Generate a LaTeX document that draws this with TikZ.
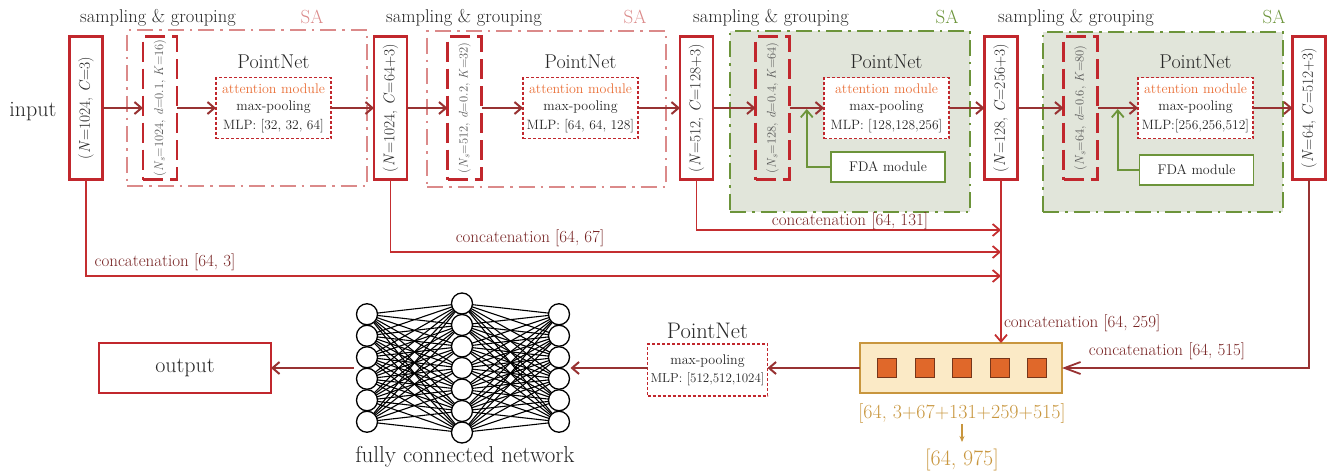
\documentclass[tikz,border=0pt]{standalone}
\usepackage{graphicx}
\usetikzlibrary{arrows.meta,calc}

\definecolor{boxred}{RGB}{193,39,45}
\definecolor{arrred}{RGB}{152,50,50}
\definecolor{catred}{RGB}{196,46,48}
\definecolor{cattxt}{RGB}{118,34,34}
\definecolor{sapink}{RGB}{219,138,138}
\definecolor{sagreen}{RGB}{108,148,58}
\definecolor{safill}{RGB}{225,229,218}
\definecolor{attn}{RGB}{234,112,56}
\definecolor{gold}{RGB}{200,150,62}
\definecolor{goldfill}{RGB}{251,234,198}
\definecolor{sqfill}{RGB}{224,104,42}
\definecolor{sqdraw}{RGB}{118,54,26}
\definecolor{txt}{RGB}{38,38,38}
\definecolor{graytxt}{RGB}{88,88,88}

\newcommand\fsz[2]{\fontsize{#1}{#2}\selectfont}
\newcommand\var[1]{\textit{#1}}
\newcommand\sub[1]{\textsubscript{\textit{#1}}}

\tikzset{
  every node/.style={inner sep=0pt, outer sep=0pt},
  featbox/.style={draw=boxred, line width=2.4pt, fill=white, minimum width=33pt,
    minimum height=143pt, font=\fsz{15.5}{18}, text=txt},
  groupbox/.style={draw=boxred, line width=2.6pt, dash pattern=on 20pt off 7pt,
    minimum width=34pt, minimum height=143pt, font=\fsz{12.5}{14}, text=graytxt},
  netbox/.style={draw=boxred, line width=1.8pt, dash pattern=on 3pt off 2pt, fill=white,
    minimum height=61pt, align=center, text=txt, font=\fsz{14}{17}},
  pinkframe/.style={draw=sapink, line width=1.6pt, dash pattern=on 16pt off 6pt on 2.5pt off 6pt},
  greenframe/.style={draw=sagreen, line width=2pt, dash pattern=on 16pt off 6pt on 2.5pt off 6pt, fill=safill},
  fdabox/.style={draw=sagreen, line width=1.8pt, fill=white, minimum width=114pt,
    minimum height=30pt, font=\fsz{14}{16}, text=txt},
  sglabel/.style={font=\fsz{18.5}{21}, text=txt},
  pnlabel/.style={font=\fsz{20}{22}, text=txt},
  salabel/.style={font=\fsz{19}{22}},
  flow/.style={draw=arrred, line width=2pt, -{Straight Barb[length=7pt,width=12pt]}},
  fdaflow/.style={draw=sagreen, line width=1.8pt, -{Straight Barb[length=7pt,width=12pt]}, shorten >=1pt},
  catline/.style={draw=catred, line width=1.8pt, -{Straight Barb[length=7pt,width=12pt]}},
  cattext/.style={text=cattxt, font=\fsz{17}{20}},
  neuron/.style={circle, draw=black, line width=1.3pt, fill=white, minimum size=21pt},
  synapse/.style={draw=black, line width=1.1pt},
  sq/.style={draw=sqdraw, line width=1pt, fill=sqfill, minimum size=19pt},
}

\begin{document}
\begin{tikzpicture}[x=1pt, y=-1pt]
\useasboundingbox (0,0) rectangle (1336,474);

% set-abstraction frames
\node[pinkframe, minimum width=240pt, minimum height=156pt] (sa1) at (247,108) {};
\node[pinkframe, minimum width=239pt, minimum height=156pt] (sa2) at (546.5,109) {};
\node[greenframe, minimum width=240pt, minimum height=181pt] (sa3) at (850,121.5) {};
\node[greenframe, minimum width=240pt, minimum height=180pt] (sa4) at (1163,122) {};

\node[sglabel] (sg1) at (158,18) {sampling \& grouping};
\node[sglabel] (sg2) at (464,18) {sampling \& grouping};
\node[sglabel] (sg3) at (771,18) {sampling \& grouping};
\node[sglabel] (sg4) at (1076,18) {sampling \& grouping};
\node[salabel, text=sapink] (sat1) at (312,17) {SA};
\node[salabel, text=sapink] (sat2) at (635,17) {SA};
\node[salabel, text=sagreen] (sat3) at (947,17) {SA};
\node[salabel, text=sagreen] (sat4) at (1274,17) {SA};

\node[font=\fsz{22}{24}, text=txt] (inp) at (33,112) {input};

% feature tensors
\node[featbox] (b1) at (86,108) {\rotatebox{90}{(\var{N}=1024, \var{C}=3)}};
\node[featbox] (b2) at (390.5,108) {\rotatebox{90}{(\var{N}=1024, \var{C}=64+3)}};
\node[featbox] (b3) at (696.5,108) {\rotatebox{90}{(\var{N}=512, \var{C}=128+3)}};
\node[featbox] (b4) at (1001,108) {\rotatebox{90}{(\var{N}=128, \var{C}=256+3)}};
\node[featbox] (b5) at (1309,108) {\rotatebox{90}{(\var{N}=64, \var{C}=512+3)}};

% grouping blocks
\node[groupbox] (g1) at (160,108) {\rotatebox{90}{(\var{N}\sub{s}=1024, \var{d}=0.1, \var{K}=16)}};
\node[groupbox] (g2) at (464.5,108) {\rotatebox{90}{(\var{N}\sub{s}=512, \var{d}=0.2, \var{K}=32)}};
\node[groupbox] (g3) at (772.5,108) {\rotatebox{90}{(\var{N}\sub{s}=128, \var{d}=0.4, \var{K}=64)}};
\node[groupbox] (g4) at (1080.5,108) {\rotatebox{90}{(\var{N}\sub{s}=64, \var{d}=0.6, \var{K}=80)}};

% PointNet blocks
\node[netbox, minimum width=115pt] (n1) at (273.5,108)
  {\textcolor{attn}{attention module}\\max-pooling\\[2pt]{\fsz{13.5}{17}MLP: [32, 32, 64]}};
\node[netbox, minimum width=115pt] (n2) at (580.5,108)
  {\textcolor{attn}{attention module}\\max-pooling\\[2pt]{\fsz{13.5}{17}MLP: [64, 64, 128]}};
\node[netbox, minimum width=125pt] (n3) at (886.5,108)
  {\textcolor{attn}{attention module}\\max-pooling\\[2pt]{\fsz{13.5}{17}MLP: [128,128,256]}};
\node[netbox, minimum width=115pt] (n4) at (1195.5,108)
  {\textcolor{attn}{attention module}\\max-pooling\\[2pt]{\fsz{13.5}{17}MLP:[256,256,512]}};
\node[pnlabel] (p1) at (n1 |- 0,62) {PointNet};
\node[pnlabel] (p2) at (n2 |- 0,62) {PointNet};
\node[pnlabel] (p3) at (n3 |- 0,62) {PointNet};
\node[pnlabel] (p4) at (n4 |- 0,62) {PointNet};

% FDA modules
\node[fdabox] (f3) at (888,167) {FDA module};
\node[fdabox] (f4) at (1196.5,170) {FDA module};

% main flow
\draw[flow] (b1) -- (g1);
\draw[flow] (g1) -- (n1);
\draw[flow] (n1) -- (b2);
\draw[flow] (b2) -- (g2);
\draw[flow] (g2) -- (n2);
\draw[flow] (n2) -- (b3);
\draw[flow] (b3) -- (g3);
\draw[flow] (g3) -- (n3);
\draw[flow] (n3) -- (b4);
\draw[flow] (b4) -- (g4);
\draw[flow] (g4) -- (n4);
\draw[flow] (n4) -- (b5);
\draw[fdaflow] (f3.west) -| ($(g3.east)!0.5!(n3.west)$);
\draw[fdaflow] (f4.west) -| ($(g4.east)!0.5!(n4.west)$);

% concatenated feature block
\node[draw=gold, line width=2pt, fill=goldfill, minimum width=202pt, minimum height=50pt] (cat) at (961,368) {};
\foreach \k [count=\i] in {887,924.5,962,999.5,1037}
  \node[sq] (s\i) at (\k,368) {};
\node[text=gold, font=\fsz{20}{22}] (sum) at (962,413) {[64, 3+67+131+259+515]};
\node[text=gold, font=\fsz{22}{24}] (tot) at (962,460) {[64, 975]};
\draw[draw=gold, line width=1.2pt, -{Stealth[length=6pt,width=5pt]}, shorten <=1pt, shorten >=7pt] (sum.south) -- (tot.north);

% skip connections
\draw[catline] (b1.south) |- (b4.south |- 0,276);
\draw[catline] (b2.south) |- (b4.south |- 0,252);
\draw[catline] (b3.south) |- (b4.south |- 0,230);
\draw[catline] (b4.south) -- (b4.south |- cat.north);
\draw[catline, draw=arrred, -{Straight Barb[length=16pt,width=12pt]}] (b5.south) |- (cat.east);
\node[cattext] (c1) at (165,262) {concatenation [64, 3]};
\node[cattext] (c2) at (530,238) {concatenation [64, 67]};
\node[cattext] (c3) at (850,221) {concatenation [64, 131]};
\node[cattext, anchor=west] (c4) at (1004,323) {concatenation [64, 259]};
\node[cattext] (c5) at (1167,351) {concatenation [64, 515]};

% final PointNet
\node[netbox, minimum width=120pt, minimum height=52pt] (n5) at (707.5,370)
  {max-pooling\\[1pt]{\fsz{13}{17}MLP: [512,512,1024]}};
\node[pnlabel, font=\fsz{22.5}{24}] (p5) at (n5 |- 0,331) {PointNet};

% fully connected network
\foreach \i in {1,...,6} {
  \node[neuron] (l\i) at (367,{314.25+21.5*(\i-1)}) {};
  \node[neuron] (r\i) at (559,{314.25+21.5*(\i-1)}) {};
}
\foreach \j in {1,...,7}
  \node[neuron] (m\j) at (462,{303.5+21.5*(\j-1)}) {};
\foreach \i in {1,...,6}
  \foreach \j in {1,...,7} {
    \draw[synapse] (l\i) -- (m\j);
    \draw[synapse] (m\j) -- (r\i);
  }
\node[font=\fsz{23}{26}, text=txt] (fcn) at (465,457) {fully connected network};

\node[draw=boxred, line width=2.4pt, minimum width=172pt, minimum height=50pt,
  font=\fsz{22}{24}, text=txt] (out) at (185,368) {output};

\draw[flow] (cat.west) -- (cat.west -| n5.east);
\draw[flow] (n5.west |- cat.west) -- ($(r3.east)!0.5!(r4.east)+(1,0)$);
\draw[flow] ($(l3.west)!0.5!(l4.west)+(-3,0)$) -- (out.east);
\end{tikzpicture}
\end{document}
